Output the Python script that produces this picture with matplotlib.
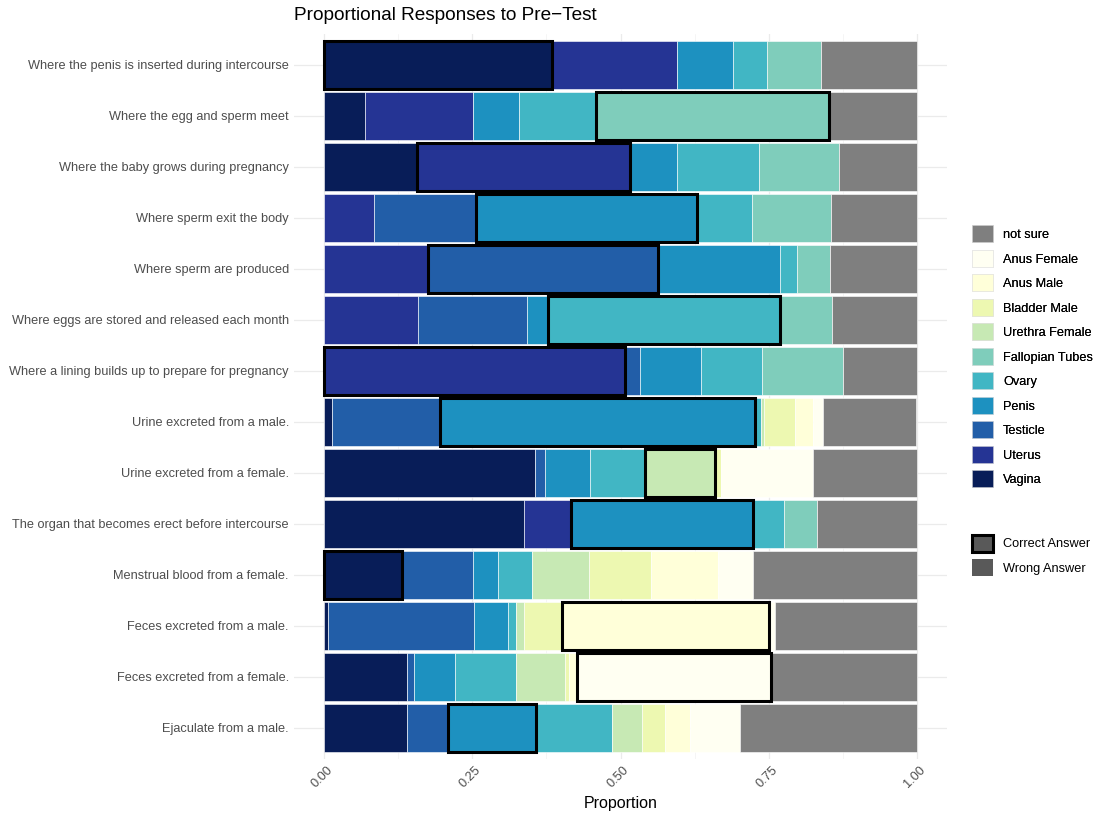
import matplotlib
matplotlib.use("Agg")
import matplotlib.pyplot as plt
import matplotlib.transforms as mtransforms
from matplotlib.patches import Patch
import numpy as np

plt.rcParams['font.family'] = ['Liberation Sans', 'DejaVu Sans']

# questions, top to bottom
questions = [
    "Where the penis is inserted during intercourse",
    "Where the egg and sperm meet",
    "Where the baby grows during pregnancy",
    "Where sperm exit the body",
    "Where sperm are produced",
    "Where eggs are stored and released each month",
    "Where a lining builds up to prepare for pregnancy",
    "Urine excreted from a male.",
    "Urine excreted from a female.",
    "The organ that becomes erect before intercourse",
    "Menstrual blood from a female.",
    "Feces excreted from a male.",
    "Feces excreted from a female.",
    "Ejaculate from a male.",
]
correct = ["Vagina", "Fallopian Tubes", "Uterus", "Penis", "Testicle", "Ovary",
           "Uterus", "Penis", "Urethra Female", "Penis", "Vagina",
           "Anus Male", "Anus Female", "Penis"]

# answer categories, in stacking order (left to right)
answers = ["Vagina", "Uterus", "Testicle", "Penis", "Ovary", "Fallopian Tubes",
           "Urethra Female", "Bladder Male", "Anus Male", "Anus Female", "not sure"]
colors = ["#081D58", "#253494", "#225EA8", "#1D91C0", "#41B6C4", "#7FCDBB",
          "#C7E9B4", "#EDF8B1", "#FFFFD9", "#FFFFF2", "#7F7F7F"]

vagina = [0.385, 0.069, 0.157, 0, 0, 0, 0, 0.014, 0.356, 0.337, 0.131, 0.007, 0.139, 0.139]
uterus = [0.210, 0.182, 0.359, 0.084, 0.176, 0.158, 0.507, 0, 0, 0.079, 0, 0, 0, 0]
testicle = [0, 0, 0, 0.173, 0.387, 0.184, 0.026, 0.182, 0.016, 0, 0.120, 0.246, 0.012, 0.070]
penis = [0.095, 0.078, 0.079, 0.372, 0.206, 0.035, 0.102, 0.531, 0.077, 0.307, 0.043, 0.058, 0.070, 0.148]
ovary = [0.057, 0.129, 0.138, 0.092, 0.029, 0.392, 0.103, 0.010, 0.092, 0.052, 0.057, 0.012, 0.102, 0.128]
fallopian = [0.091, 0.393, 0.136, 0.134, 0.055, 0.088, 0.138, 0, 0, 0.056, 0, 0, 0, 0]
urethra_f = [0, 0, 0, 0, 0, 0, 0, 0.005, 0.118, 0, 0.096, 0.014, 0.084, 0.052]
bladder_m = [0, 0, 0, 0, 0, 0, 0, 0.052, 0.010, 0, 0.104, 0.064, 0.006, 0.038]
anus_m = [0, 0, 0, 0, 0, 0, 0, 0.031, 0, 0, 0.113, 0.350, 0.014, 0.042]
anus_f = [0, 0, 0, 0, 0, 0, 0, 0.017, 0.155, 0, 0.059, 0.010, 0.326, 0.084]
not_sure = [0.162, 0.149, 0.131, 0.145, 0.147, 0.143, 0.124, 0.157, 0.176, 0.169, 0.277, 0.239, 0.247, 0.299]

series = [vagina, uterus, testicle, penis, ovary, fallopian,
          urethra_f, bladder_m, anus_m, anus_f, not_sure]

fig = plt.figure(figsize=(10.95, 8.14), dpi=100)
ax = fig.add_axes([0.2689, 0.0681, 0.5956, 0.8897])

y = np.arange(len(questions))
bar_h = 0.94
left = np.zeros(len(questions))
starts = {}
for name, vals, col in zip(answers, series, colors):
    vals = np.array(vals)
    ax.barh(y, vals, left=left, height=bar_h, color=col,
            edgecolor='white', linewidth=0.4, zorder=2)
    starts[name] = (left.copy(), vals)
    left = left + vals

# outline the correct answer of each question
for i, ans in enumerate(correct):
    l, v = starts[ans]
    ax.barh(y[i], v[i], left=l[i], height=bar_h, fill=False,
            edgecolor='black', linewidth=2.2, zorder=3)

ax.set_xlim(-0.05, 1.05)
ax.set_ylim(len(questions) - 0.4, -0.6)
ax.set_xticks([0, 0.25, 0.5, 0.75, 1.0])
ax.set_xticks([0.125, 0.375, 0.625, 0.875], minor=True)
ax.set_yticks(y)
ax.set_yticklabels(questions, color='#4D4D4D', fontsize=9.2)
ax.tick_params(axis='both', which='both', length=0)
ax.tick_params(axis='y', pad=4)
ax.tick_params(axis='x', pad=4)
ax.set_xticklabels(["0.00", "0.25", "0.50", "0.75", "1.00"], rotation=45,
                   ha='right', va='top', color='#4D4D4D', fontsize=9.2)
shift = mtransforms.ScaledTranslation(0.11, 0, fig.dpi_scale_trans)
for lab in ax.get_xticklabels():
    lab.set_transform(lab.get_transform() + shift)
ax.grid(axis='x', which='major', color='#EBEBEB', linewidth=0.9, zorder=0)
ax.grid(axis='x', which='minor', color='#F2F2F2', linewidth=0.5, zorder=0)
ax.grid(axis='y', which='major', color='#EBEBEB', linewidth=0.9, zorder=0)
ax.set_axisbelow(True)
for s in ax.spines.values():
    s.set_visible(False)

ax.set_xlabel("Proportion", fontsize=11.5, labelpad=4)
ax.set_title("Proportional Responses to Pre\u2212Test", loc='left', fontsize=13.7,
             pad=10, x=0.0)

# legend for answer colours
handles = [Patch(facecolor=c, edgecolor='#E0E0E0', linewidth=0.4)
           for c in colors[::-1]]
leg1 = fig.legend(handles, answers[::-1], loc='upper left',
                  bbox_to_anchor=(0.888, 0.723), frameon=False, fontsize=9.2,
                  handlelength=1.65, handleheight=1.65, labelspacing=0.6,
                  handletextpad=0.75, borderpad=0, borderaxespad=0)

# legend for outline meaning
handles2 = [Patch(facecolor='#595959', edgecolor='black', linewidth=2.2),
            Patch(facecolor='#595959', edgecolor='none')]
fig.legend(handles2, ["Correct Answer", "Wrong Answer"], loc='upper left',
           bbox_to_anchor=(0.888, 0.343), frameon=False, fontsize=9.2,
           handlelength=1.65, handleheight=1.65, labelspacing=0.6,
           handletextpad=0.75, borderpad=0, borderaxespad=0)
fig.add_artist(leg1)

fig.savefig("out.png", dpi=100)
